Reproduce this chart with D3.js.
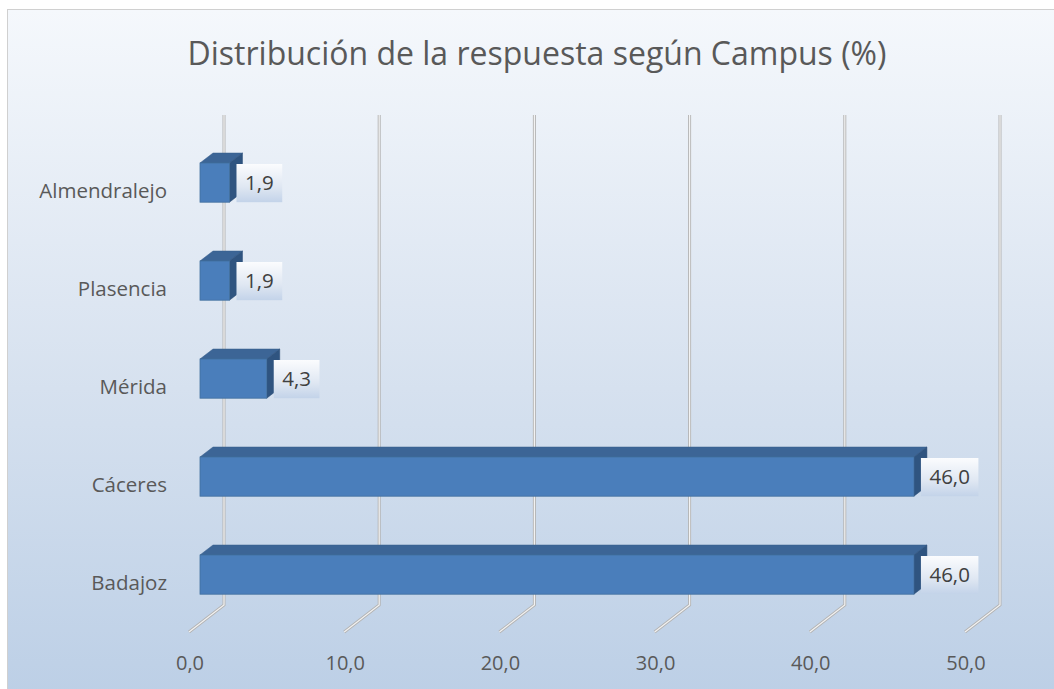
<!DOCTYPE html>
<html>
<head>
<meta charset="utf-8">
<script src="https://cdnjs.cloudflare.com/ajax/libs/d3/7.8.5/d3.min.js"></script>
<style>
  body { margin: 0; background: #fff; }
  text { font-family: "Open Sans", "Noto Sans", sans-serif; }
</style>
</head>
<body>
<div id="chart"></div>
<script>
// Data
const campus = ["Almendralejo", "Plasencia", "Mérida", "Cáceres", "Badajoz"];
const percent = [1.9, 1.9, 4.3, 46.0, 46.0];
const tickValues = [0, 10, 20, 30, 40, 50];

const W = 1054, H = 689;
const fmt = v => d3.format(".1f")(v).replace(".", ",");

const svg = d3.select("#chart").append("svg")
    .attr("width", W)
    .attr("height", H);

// background gradient
const defs = svg.append("defs");
const bg = defs.append("linearGradient").attr("id", "bg").attr("x1", 0).attr("y1", 0).attr("x2", 0).attr("y2", 1);
bg.append("stop").attr("offset", "0%").attr("stop-color", "#f5f8fc");
bg.append("stop").attr("offset", "55%").attr("stop-color", "#d6e1ef");
bg.append("stop").attr("offset", "100%").attr("stop-color", "#bccfe6");

const lab = defs.append("linearGradient").attr("id", "lab").attr("x1", 0).attr("y1", 0).attr("x2", 0).attr("y2", 1);
lab.append("stop").attr("offset", "0%").attr("stop-color", "#fbfcfe");
lab.append("stop").attr("offset", "60%").attr("stop-color", "#dfe7f2");
lab.append("stop").attr("offset", "100%").attr("stop-color", "#c3d3e9");

svg.append("rect")
    .attr("x", 7.5).attr("y", 9.5)
    .attr("width", W).attr("height", H)
    .attr("fill", "url(#bg)")
    .attr("stroke", "#d0d0d0")
    .attr("stroke-width", 1);

// title
svg.append("text")
    .attr("x", 537)
    .attr("y", 65)
    .attr("text-anchor", "middle")
    .attr("fill", "#595959")
    .style("font-size", "32px")
    .text("Distribución de la respuesta según Campus (%)");

// scales (front plane of the bars)
const x = d3.scaleLinear().domain([0, 50]).range([200, 976]);
const y = d3.scaleBand()
    .domain(campus)
    .range([133.6, 623.6])
    .paddingInner(0.6)
    .paddingOuter(0.3);

// 3d depth offsets relative to bar front plane
const back = { dx: 24, dy: -18.6 };
const floorFront = { dx: -11, dy: 8.4 };
const barDepth = { dx: 13, dy: -10 };

const [r0, r1] = y.range();

// gridlines: back wall + floor
const grid = svg.append("g");
tickValues.forEach(v => {
    const bx = x(v) + back.dx;
    const pts = [
        [bx, r0 + back.dy],
        [bx, r1 + back.dy],
        [x(v) + floorFront.dx, r1 + floorFront.dy]
    ];
    grid.append("path")
        .attr("d", d3.line()(pts))
        .attr("fill", "none")
        .attr("stroke", "#b4b4b4")
        .attr("stroke-width", 3);
    grid.append("path")
        .attr("d", d3.line()(pts))
        .attr("fill", "none")
        .attr("stroke", "#f2f2f2")
        .attr("stroke-width", 1.2);
});

// tick labels
svg.append("g").selectAll("text")
    .data(tickValues)
    .join("text")
    .attr("x", d => x(d) + floorFront.dx + 1)
    .attr("y", 670)
    .attr("text-anchor", "middle")
    .attr("fill", "#595959")
    .style("font-size", "20px")
    .text(d => fmt(d));

// category labels
svg.append("g").selectAll("text")
    .data(campus)
    .join("text")
    .attr("x", 167)
    .attr("y", d => y(d) + y.bandwidth() / 2 + floorFront.dy)
    .attr("dy", "0.35em")
    .attr("text-anchor", "end")
    .attr("fill", "#595959")
    .style("font-size", "20.5px")
    .text(d => d);

// bars
const bars = svg.append("g").selectAll("g")
    .data(campus.map((c, i) => ({ c, v: percent[i] })))
    .join("g");

bars.append("path") // top face
    .attr("d", d => {
        const x0 = x(0), x1 = x(d.v), t = y(d.c);
        return `M${x0},${t}L${x0 + barDepth.dx},${t + barDepth.dy}L${x1 + barDepth.dx},${t + barDepth.dy}L${x1},${t}Z`;
    })
    .attr("fill", "#3c6596")
    .attr("stroke", "#375d8a")
    .attr("stroke-width", 0.5);

bars.append("path") // side face
    .attr("d", d => {
        const x1 = x(d.v), t = y(d.c), b = t + y.bandwidth();
        return `M${x1},${t}L${x1 + barDepth.dx},${t + barDepth.dy}L${x1 + barDepth.dx},${b + barDepth.dy}L${x1},${b}Z`;
    })
    .attr("fill", "#2f5480")
    .attr("stroke", "#2c4f78")
    .attr("stroke-width", 0.5);

bars.append("rect") // front face
    .attr("x", x(0))
    .attr("y", d => y(d.c))
    .attr("width", d => x(d.v) - x(0))
    .attr("height", y.bandwidth())
    .attr("fill", "#4a7ebb")
    .attr("stroke", "#41709f")
    .attr("stroke-width", 0.8);

// data labels
bars.each(function(d) {
    const g = d3.select(this);
    const t = g.append("text")
        .attr("y", y(d.c) + y.bandwidth() / 2)
        .attr("dy", "0.35em")
        .attr("text-anchor", "middle")
        .attr("fill", "#404040")
        .style("font-size", "20.5px")
        .text(fmt(d.v));
    const w = t.node().getComputedTextLength() + 17;
    const bx = x(d.v) + 7;
    g.insert("rect", "text")
        .attr("x", bx)
        .attr("y", y(d.c) + 1)
        .attr("width", w)
        .attr("height", y.bandwidth() - 1)
        .attr("fill", "url(#lab)");
    t.attr("x", bx + w / 2);
});
</script>
</body>
</html>
